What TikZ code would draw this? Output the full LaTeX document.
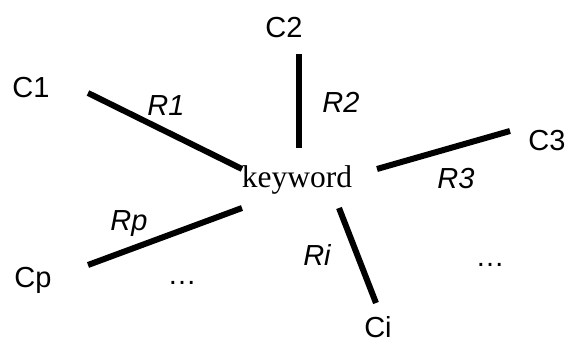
\documentclass[tikz,border=0pt]{standalone}
\usepackage{fontspec}
\setmainfont{Liberation Serif}
\newfontfamily\arialf{Liberation Sans}
\begin{document}
\begin{tikzpicture}[x=1pt,y=-1pt,
  lbl/.style={font=\arialf\fontsize{29}{33}\selectfont, anchor=base, inner sep=0pt},
  rel/.style={font=\arialf\itshape\fontsize{29}{33}\selectfont, anchor=base, inner sep=0pt},
  kwstyle/.style={font=\fontsize{31.5}{35}\selectfont, anchor=base, inner sep=0pt},
  link/.style={line width=6pt, black}]
\useasboundingbox (0,0) rectangle (571,343);
\node[kwstyle] (kw) at (297,187) {keyword};
\node[lbl] (c1) at (31,97) {C1};
\node[lbl] (c2) at (284,37) {C2};
\node[lbl] (c3) at (547,150) {C3};
\node[lbl] (ci) at (378,337) {Ci};
\node[lbl] (cp) at (33,287) {Cp};
\node[lbl] (d1) at (182,284) {\dots};
\node[lbl] (d2) at (490,266) {\dots};
\node[rel] (r1) at (166,115) {R1};
\node[rel] (r2) at (341,112) {R2};
\node[rel] (r3) at (456,188) {R3};
\node[rel] (ri) at (317,265) {Ri};
\node[rel] (rp) at (129,230) {Rp};
\coordinate (a1) at (88,93);  \coordinate (b1) at (242,169);
\coordinate (a2) at (299,54); \coordinate (b2) at (299,148);
\coordinate (a3) at (510,131); \coordinate (b3) at (377,169);
\coordinate (ai) at (376,303); \coordinate (bi) at (339,208);
\coordinate (ap) at (88,265); \coordinate (bp) at (242,208);
\draw[link] (a1) -- (b1);
\draw[link] (a2) -- (b2);
\draw[link] (a3) -- (b3);
\draw[link] (ai) -- (bi);
\draw[link] (ap) -- (bp);
\end{tikzpicture}
\end{document}
